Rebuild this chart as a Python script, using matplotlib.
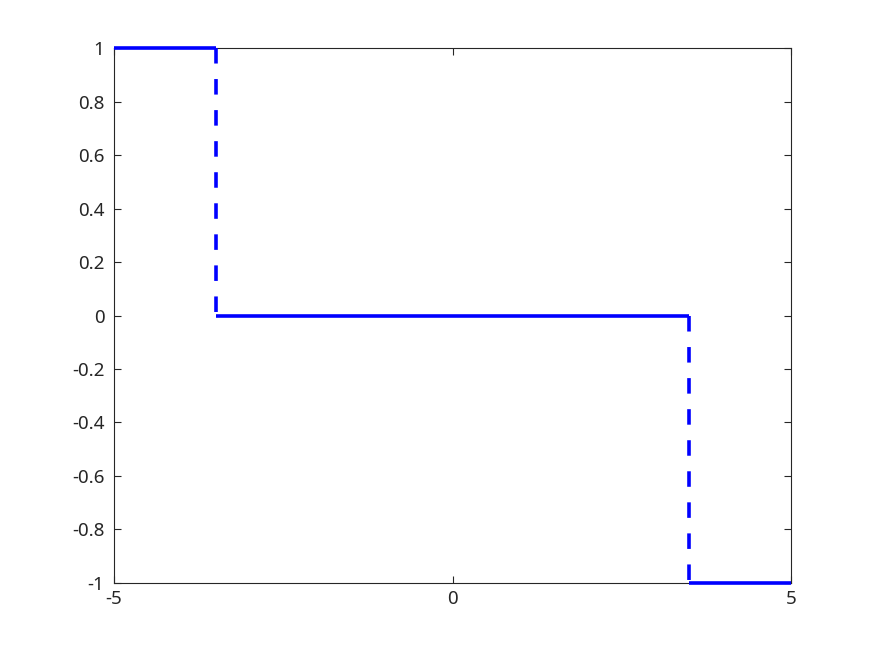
import matplotlib
matplotlib.use("Agg")
import matplotlib.pyplot as plt

# piecewise constant function with jumps
x_edges = [-5, -3.5, 3.5, 5]
levels = [1, 0, -1]
x_ticks = [-5, 0, 5]
y_ticks = [-1, -0.8, -0.6, -0.4, -0.2, 0, 0.2, 0.4, 0.6, 0.8, 1]
y_labels = ['-1', '-0.8', '-0.6', '-0.4', '-0.2', '0', '0.2', '0.4', '0.6', '0.8', '1']

plt.rcParams['font.family'] = ['Noto Sans', 'DejaVu Sans']

fig = plt.figure(figsize=(8.75, 6.56), dpi=100)
ax = fig.add_axes([0.1303, 0.1113, 0.7737, 0.8155])

blue = '#0000ff'
lw = 2.6
# solid horizontal pieces
for i, lev in enumerate(levels):
    ax.plot([x_edges[i], x_edges[i + 1]], [lev, lev], color=blue, lw=lw,
            solid_capstyle='butt', clip_on=False, zorder=5)
# dashed jumps
for i in range(len(levels) - 1):
    xj = x_edges[i + 1]
    ax.plot([xj, xj], [levels[i], levels[i + 1]], color=blue, lw=lw,
            dashes=(4.3, 4.3), dash_capstyle='butt', clip_on=False, zorder=5)

ax.set_xlim(-5, 5)
ax.set_ylim(-1, 1)
ax.set_xticks(x_ticks)
ax.set_xticklabels(['-5', '0', '5'])
ax.set_yticks(y_ticks)
ax.set_yticklabels(y_labels)
ax.tick_params(direction='in', top=True, right=True, length=5, width=0.8,
               labelsize=13.5, colors='#262626')
ax.tick_params(axis='y', pad=7)
ax.tick_params(axis='x', pad=5)
for sp in ax.spines.values():
    sp.set_color('#262626')
    sp.set_linewidth(0.8)

fig.savefig('out.png', dpi=100)
